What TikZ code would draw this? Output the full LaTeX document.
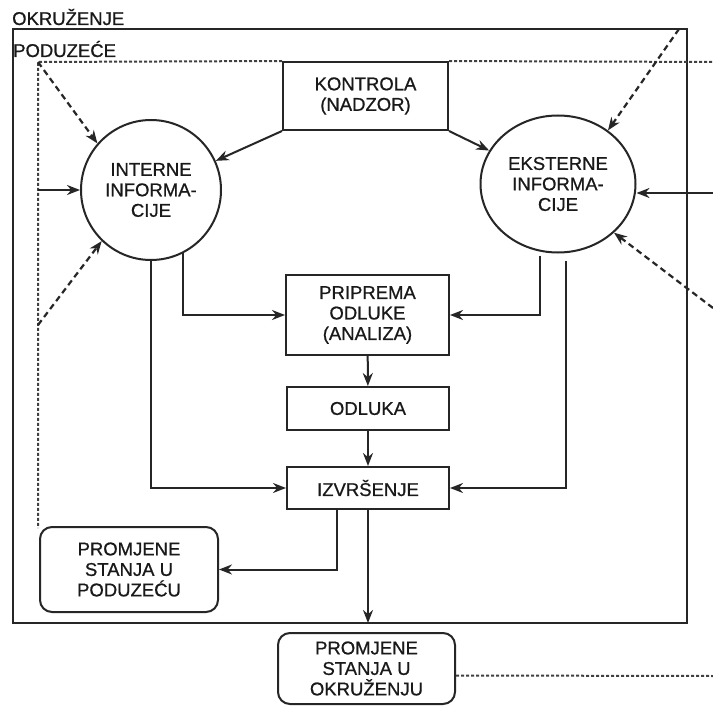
\documentclass[tikz,border=0pt]{standalone}
\usepackage{fontspec}
\setmainfont{Liberation Sans}[FakeBold=0.8]
\usetikzlibrary{arrows.meta,shapes.geometric}
\begin{document}
\begin{tikzpicture}[x=1pt,y=-1pt,
  ln/.style={line width=2pt, draw=black!85},
  arr/.style={ln, -{Stealth[length=13pt,width=10pt]}},
  dsh/.style={line width=2.2pt, draw=black!85, dash pattern=on 6pt off 4pt},
  darr/.style={dsh, -{Stealth[length=13pt,width=10pt]}},
  dotl/.style={line width=2pt, draw=black!75, dash pattern=on 3pt off 2pt},
  box/.style={ln, rectangle, align=center, inner sep=0pt, text=black!90, font=\fontsize{18.5}{20.5}\selectfont},
  rbox/.style={box, rounded corners=12pt},
  lbl/.style={anchor=base west, inner sep=0pt, text=black!90, font=\fontsize{18.5}{21}\selectfont}
]
\useasboundingbox (0,0) rectangle (713,706);
\fill[white] (0,0) rectangle (713,706);

% enterprise frame
\node[ln, rectangle, inner sep=0pt, minimum width=674pt, minimum height=594pt] (frame) at (350,326) {};
\node[lbl] (okr) at (12,25) {OKRUŽENJE};
\node[lbl] (pod) at (13,57) {PODUZEĆE};

% nodes
\node[box, minimum width=165pt, minimum height=68pt] (kon) at (365.5,96) {KONTROLA\\(NADZOR)};
\node[box, circle, minimum size=140pt] (int) at (151,190) {INTERNE\\INFORMA-\\CIJE};
\node[box, ellipse, minimum width=155pt, minimum height=137pt] (eks) at (558,184) {EKSTERNE\\INFORMA-\\CIJE};
\node[box, minimum width=163pt, minimum height=80pt] (pri) at (367.5,315) {PRIPREMA\\ODLUKE\\(ANALIZA)};
\node[box, minimum width=162pt, minimum height=43pt] (odl) at (368,408.5) {ODLUKA};
\node[box, minimum width=162pt, minimum height=42pt] (izv) at (368,488) {IZVRŠENJE};
\node[rbox, minimum width=178pt, minimum height=85pt] (psp) at (129,569.5) {PROMJENE\\STANJA U\\PODUZEĆU};
\node[rbox, minimum width=177pt, minimum height=71pt] (pso) at (366.5,668.5) {PROMJENE\\STANJA U\\OKRUŽENJU};

% coordinates
\coordinate (dc) at (38,62);
\coordinate (tr) at (713,62);
\coordinate (dl1) at (38,190);
\coordinate (dl2) at (38,325);
\coordinate (pe) at (38,528);
\coordinate (fc) at (679,29);
\coordinate (r1) at (713,193);
\coordinate (r2) at (713,308);
\coordinate (br) at (713,676);
\coordinate (pb) at (368,623);

% dotted lines
\draw[dotl] (kon.north west) -- (dc) -- (pe);
\draw[dotl] (kon.north east) -- (tr);
\draw[dotl] ([yshift=-7pt]pso.east) -- (br);

% dashed arrows
\draw[darr] (dc) -- (int.139);
\draw[darr] (dl2) -- (int.226);
\draw[darr] (fc) -- (eks.47);
\draw[darr] (r2) -- (eks.-41);

% solid arrows
\draw[arr] (dl1) -- (int.west);
\draw[arr] (r1) -- (r1 -| eks.east);
\draw[arr] (kon.south west) -- (int);
\draw[arr] (kon.south east) -- (eks);
\draw[arr] (int.-63) |- (pri.west);
\draw[arr] ([yshift=-4pt]eks.-105) |- (pri.east);
\draw[arr] (int.south) |- (izv.west);
\draw[arr] ([xshift=8pt,yshift=-8pt]eks.south) |- (izv.east);
\draw[arr] (pri) -- (odl);
\draw[arr] (odl) -- (izv);
\draw[arr] ([xshift=-31pt]izv.south) |- (psp.east);
\draw[arr] (izv.south) -- (pb);
\end{tikzpicture}
\end{document}
